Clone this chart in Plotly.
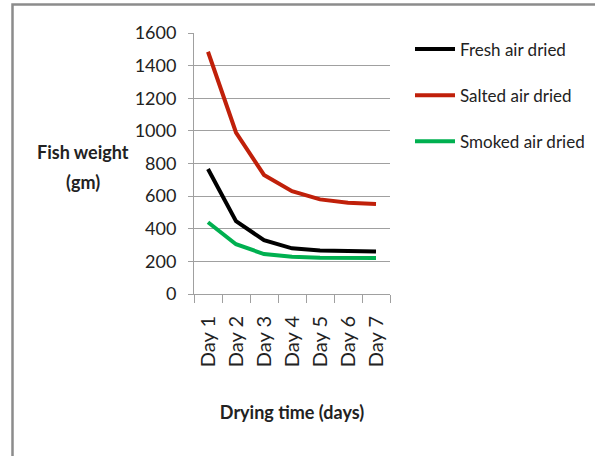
import plotly.graph_objects as go

days = ["Day 1", "Day 2", "Day 3", "Day 4", "Day 5", "Day 6", "Day 7"]
fresh = [766, 447, 330, 280, 267, 262, 260]
salted = [1485, 990, 730, 630, 580, 560, 552]
smoked = [440, 305, 245, 228, 222, 220, 220]

series = [
    ("Fresh air dried", fresh, "#000000"),
    ("Salted air dried", salted, "#C0200A"),
    ("Smoked air dried", smoked, "#00B050"),
]

W, H = 595, 456
L, R, T, B = 194, 390, 33, 294  # plot area in pixels


def px(x):
    return (x - L) / (R - L)


def py(y):
    return (B - y) / (B - T)


FONT = "Lato, sans-serif"
TXT = "#222"

fig = go.Figure()
for i, (name, vals, col) in enumerate(series):
    fig.add_trace(go.Scatter(
        x=days, y=vals, mode="lines", name=name,
        line=dict(color=col, width=4),
        legendgroup=f"g{i}",
    ))

fig.update_layout(
    width=W, height=H,
    margin=dict(l=L, r=W - R, t=T, b=H - B, autoexpand=False),
    paper_bgcolor="white", plot_bgcolor="white",
    font=dict(family=FONT, size=18, color=TXT),
    showlegend=True,
    legend=dict(
        x=px(410), y=py(31.5), xanchor="left", yanchor="top",
        font=dict(size=17, color=TXT), itemwidth=40,
        tracegroupgap=21, bgcolor="rgba(0,0,0,0)",
    ),
    xaxis=dict(
        type="category", range=[-0.5, 6.5], tickson="boundaries", ticks="outside",
        ticklen=8, tickcolor="#A0A0A0", tickwidth=1,
        showline=True, linecolor="#A0A0A0", linewidth=1,
        showgrid=False, tickangle=-90, ticklabelstandoff=13,
        tickfont=dict(size=20, color=TXT),
        title=dict(text="<b>Drying time (days)</b>", font=dict(size=18, color=TXT), standoff=40),
    ),
    yaxis=dict(
        range=[0, 1600], dtick=200, ticks="outside", ticklen=5,
        tickcolor="#A0A0A0", showline=True, linecolor="#A0A0A0", linewidth=1,
        showgrid=True, gridcolor="#A0A0A0", gridwidth=1, zeroline=False,
        ticklabelstandoff=8,
        tickfont=dict(size=18, color=TXT),
    ),
    annotations=[
        dict(text="<b>Fish weight</b>", x=px(83), y=py(152), xref="paper", yref="paper",
             xanchor="center", yanchor="middle",
             showarrow=False, font=dict(size=18, color=TXT)),
        dict(text="<b>(gm)</b>", x=px(83), y=py(182), xref="paper", yref="paper",
             xanchor="center", yanchor="middle",
             showarrow=False, font=dict(size=18, color=TXT)),
    ],
    shapes=[
        dict(type="rect", xref="paper", yref="paper",
             x0=px(12.5), x1=px(620), y0=py(4.5), y1=py(480),
             line=dict(color="#8C8C8C", width=2.5), fillcolor="rgba(0,0,0,0)", layer="below"),
    ],
)

fig.write_html("out.html")
